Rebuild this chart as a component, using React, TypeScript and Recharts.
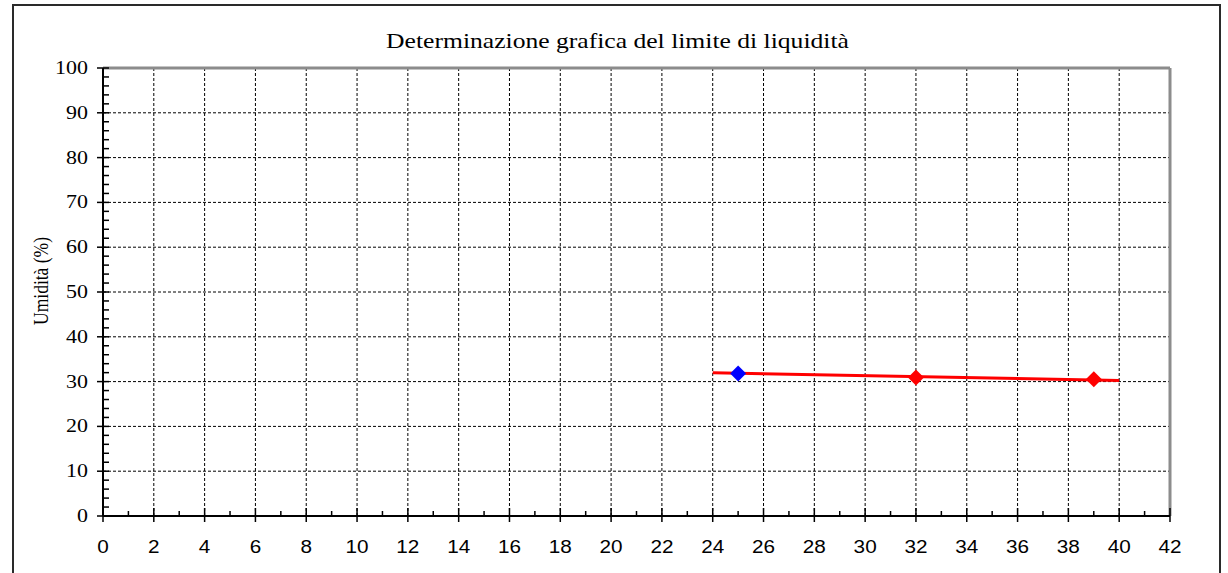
import { CartesianGrid, ReferenceLine, Scatter, ScatterChart, XAxis, YAxis } from 'recharts';

const TITLE = 'Determinazione grafica del limite di liquidità';
const Y_LABEL = 'Umidità (%)';

const X_TICKS = [
  0, 1, 2, 3, 4, 5, 6, 7, 8, 9, 10, 11, 12, 13, 14, 15, 16, 17, 18, 19, 20, 21, 22, 23, 24, 25, 26, 27, 28, 29, 30,
  31, 32, 33, 34, 35, 36, 37, 38, 39, 40, 41, 42,
];
const Y_TICKS = [
  0, 2, 4, 6, 8, 10, 12, 14, 16, 18, 20, 22, 24, 26, 28, 30, 32, 34, 36, 38, 40, 42, 44, 46, 48, 50, 52, 54, 56, 58,
  60, 62, 64, 66, 68, 70, 72, 74, 76, 78, 80, 82, 84, 86, 88, 90, 92, 94, 96, 98, 100,
];
const GRID_X = [2, 4, 6, 8, 10, 12, 14, 16, 18, 20, 22, 24, 26, 28, 30, 32, 34, 36, 38, 40];
const GRID_Y = [10, 20, 30, 40, 50, 60, 70, 80, 90];

// prove di laboratorio (colpi, umidità)
const BLUE_X = [25];
const BLUE_Y = [31.8];
const RED_X = [32, 39];
const RED_Y = [30.9, 30.5];
// retta di interpolazione
const TREND_X = [24, 40];
const TREND_Y = [31.95, 30.25];

const zip = (xs: number[], ys: number[]) => xs.map((x, i) => ({ x, y: ys[i] }));

const bluePoints = zip(BLUE_X, BLUE_Y);
const redPoints = zip(RED_X, RED_Y);
const trendPoints = zip(TREND_X, TREND_Y);

function Diamond({ cx, cy, fill }: any) {
  if (cx == null || cy == null) return null;
  const r = 8;
  return <polygon points={`${cx},${cy - r} ${cx + r},${cy} ${cx},${cy + r} ${cx - r},${cy}`} fill={fill} />;
}

function XTick({ x, y, payload }: any) {
  const v = payload.value as number;
  if (v % 2 !== 0) {
    return <line x1={x} x2={x} y1={y - 5} y2={y} stroke="#000" strokeWidth={1.5} />;
  }
  return (
    <g>
      <line x1={x} x2={x} y1={y - 8} y2={y + 6} stroke="#000" strokeWidth={1.5} />
      <text
        transform={`translate(${x} ${y + 37}) scale(1.12 1)`}
        textAnchor="middle"
        fontFamily="'Liberation Sans', Arial, sans-serif"
        fontSize={18.5}
        fill="#000"
      >
        {v}
      </text>
    </g>
  );
}

function YTick({ x, y, payload }: any) {
  const v = payload.value as number;
  if (v % 10 !== 0) {
    return <line x1={x} x2={x + 6} y1={y} y2={y} stroke="#000" strokeWidth={1.5} />;
  }
  return (
    <g>
      <line x1={x - 6} x2={x + 6} y1={y} y2={y} stroke="#000" strokeWidth={1.5} />
      <text
        transform={`translate(${x - 15} ${y + 6}) scale(1.22 1)`}
        textAnchor="end"
        fontFamily="'Liberation Serif', 'Times New Roman', serif"
        fontSize={18}
        fill="#000"
      >
        {v}
      </text>
    </g>
  );
}

function YLabel({ viewBox }: any) {
  const { x, y, height } = viewBox;
  return (
    <text
      transform={`translate(${x + 5} ${y + height / 2 - 11}) rotate(-90) scale(1 1.25)`}
      textAnchor="middle"
      fontFamily="'Liberation Serif', 'Times New Roman', serif"
      fontSize={17.5}
      fill="#000"
    >
      {Y_LABEL}
    </text>
  );
}

export default function App() {
  return (
    <div style={{ position: 'absolute', left: 0, top: 0, width: 1228, height: 573, overflow: 'hidden', background: '#fff' }}>
      <div
        style={{
          position: 'absolute',
          left: 12,
          top: 4,
          width: 1209,
          height: 600,
          border: '2px solid #2a2a2a',
          boxSizing: 'border-box',
        }}
      />
      <svg width={1228} height={80} style={{ position: 'absolute', left: 0, top: 0 }}>
        <text
          transform="translate(617.5 48) scale(1.22 1)"
          textAnchor="middle"
          fontFamily="'Liberation Serif', 'Times New Roman', serif"
          fontSize={21}
          fill="#000"
        >
          {TITLE}
        </text>
      </svg>
      <div style={{ position: 'absolute', left: 0, top: 0 }}>
        <ScatterChart width={1228} height={573} margin={{ top: 68, right: 58, left: 43, bottom: 27 }}>
          <CartesianGrid
            horizontalValues={GRID_Y}
            verticalValues={GRID_X}
            stroke="#000"
            strokeWidth={1}
            strokeDasharray="3 2"
          />
          <XAxis
            type="number"
            dataKey="x"
            domain={[0, 42]}
            ticks={X_TICKS}
            interval={0}
            height={30}
            tickSize={0}
            tickMargin={0}
            tickLine={false}
            tick={<XTick />}
            axisLine={{ stroke: '#000', strokeWidth: 2 }}
          />
          <YAxis
            type="number"
            dataKey="y"
            domain={[0, 100]}
            ticks={Y_TICKS}
            interval={0}
            width={60}
            tickSize={0}
            tickMargin={0}
            tickLine={false}
            tick={<YTick />}
            axisLine={{ stroke: '#000', strokeWidth: 2 }}
            label={<YLabel />}
          />
          <ReferenceLine y={100} stroke="#8c8c8c" strokeWidth={3} />
          <ReferenceLine x={42} stroke="#8c8c8c" strokeWidth={3} />
          <Scatter
            data={trendPoints}
            line={{ stroke: '#ff0000', strokeWidth: 3 }}
            shape={() => null}
            isAnimationActive={false}
          />
          <Scatter data={bluePoints} fill="#0000ff" shape={<Diamond />} isAnimationActive={false} />
          <Scatter data={redPoints} fill="#ff0000" shape={<Diamond />} isAnimationActive={false} />
        </ScatterChart>
      </div>
    </div>
  );
}
